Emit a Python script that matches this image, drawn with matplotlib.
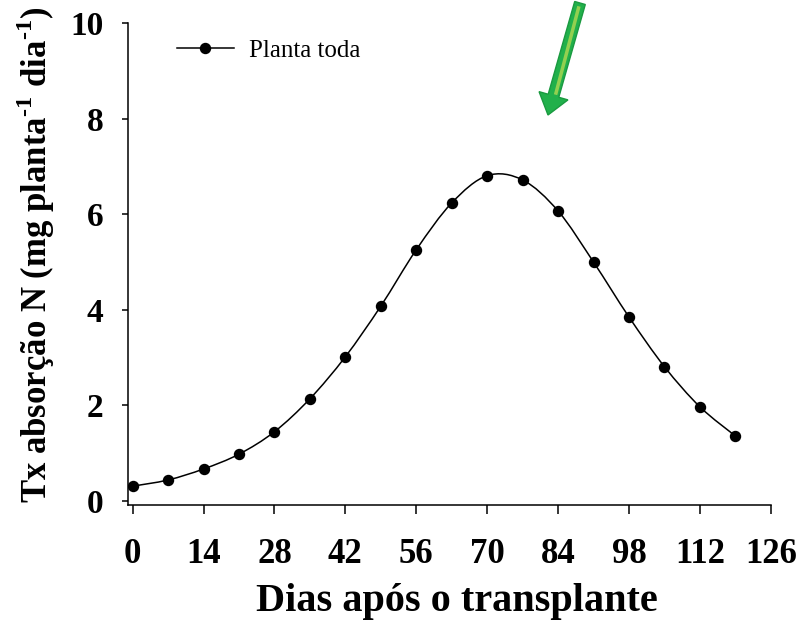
import matplotlib

matplotlib.use("Agg")
import matplotlib.pyplot as plt
import numpy as np
from matplotlib.lines import Line2D
from matplotlib.path import Path
from matplotlib.patches import FancyArrow, PathPatch
from matplotlib.transforms import IdentityTransform

plt.rcParams["font.family"] = ["Liberation Serif", "DejaVu Serif"]
plt.rcParams["mathtext.fontset"] = "custom"
plt.rcParams["mathtext.rm"] = "Liberation Serif:bold"
plt.rcParams["mathtext.bf"] = "Liberation Serif:bold"

# N uptake rate, whole plant, sampled weekly after transplanting
dias = [0, 7, 14, 21, 28, 35, 42, 49, 56, 63, 70, 77, 84, 91, 98, 105, 112, 119]
taxa_n = [0.31, 0.44, 0.67, 0.98, 1.45, 2.14, 3.02, 4.08, 5.26, 6.24,
          6.81, 6.72, 6.07, 5.00, 3.85, 2.81, 1.97, 1.36]
xticks = [0, 14, 28, 42, 56, 70, 84, 98, 112, 126]
yticks = [0, 2, 4, 6, 8, 10]


def smooth_path(x, y):
    """Catmull-Rom through the points, as cubic Bezier segments."""
    p = np.column_stack([x, y]).astype(float)
    ext = np.vstack([p[0], p, p[-1]])
    verts = [p[0]]
    codes = [Path.MOVETO]
    for i in range(len(p) - 1):
        p0, p1, p2, p3 = ext[i], ext[i + 1], ext[i + 2], ext[i + 3]
        verts += [p1 + (p2 - p0) / 6, p2 - (p3 - p1) / 6, p2]
        codes += [Path.CURVE4] * 3
    return Path(verts, codes)


fig = plt.figure(figsize=(7.98, 6.2), dpi=100)
ax = fig.add_axes([0.1608, 0.1855, 0.8052, 0.7769])

ax.add_patch(PathPatch(smooth_path(dias, taxa_n), fill=False,
                       ec="black", lw=1.1))
ax.plot(dias, taxa_n, "o", color="black", ms=7.2, zorder=3)

ax.set_xlim(-0.85, 126)
ax.set_ylim(-0.084, 10)
ax.set_xticks(xticks)
ax.set_yticks(yticks)
for s in ("top", "right"):
    ax.spines[s].set_visible(False)
for s in ("left", "bottom"):
    ax.spines[s].set_linewidth(1.1)
ax.tick_params(axis="x", direction="out", length=6.5, width=1.1,
               labelsize=25, pad=17)
ax.tick_params(axis="y", direction="out", length=4.3, width=1.1,
               labelsize=24, pad=13.5)
for lab in ax.get_xticklabels() + ax.get_yticklabels():
    lab.set_fontweight("bold")

ax.set_xlabel("Dias após o transplante", fontsize=29, fontweight="bold")
ax.xaxis.set_label_coords(0.512, -0.162)
ax.set_ylabel(r"Tx absorção N (mg planta$^{\text{-1}}$ dia$^{\text{-1}}$)",
              fontsize=25, fontweight="bold")
ax.yaxis.set_label_coords(-0.111, 0.519)

handle = Line2D([], [], color="black", lw=1.1, marker="o", ms=7.2)
ax.legend([handle], ["Planta toda"], loc="upper left",
          bbox_to_anchor=(0.04, 1.013), frameon=False, fontsize=18,
          handlelength=2.28, handletextpad=0.6)

# arrow pointing at the peak uptake
arrow = FancyArrow(580, 617, -32, -112, width=11, head_width=30,
                   head_length=20, length_includes_head=True,
                   transform=IdentityTransform(), fc="#21b04b",
                   ec="#1a9a40", lw=1)
fig.patches.append(arrow)
fig.lines.append(Line2D([578.5, 556], [612, 527], color="#92d050", lw=2.5,
                        transform=IdentityTransform()))

fig.savefig("out.png", dpi=100)
